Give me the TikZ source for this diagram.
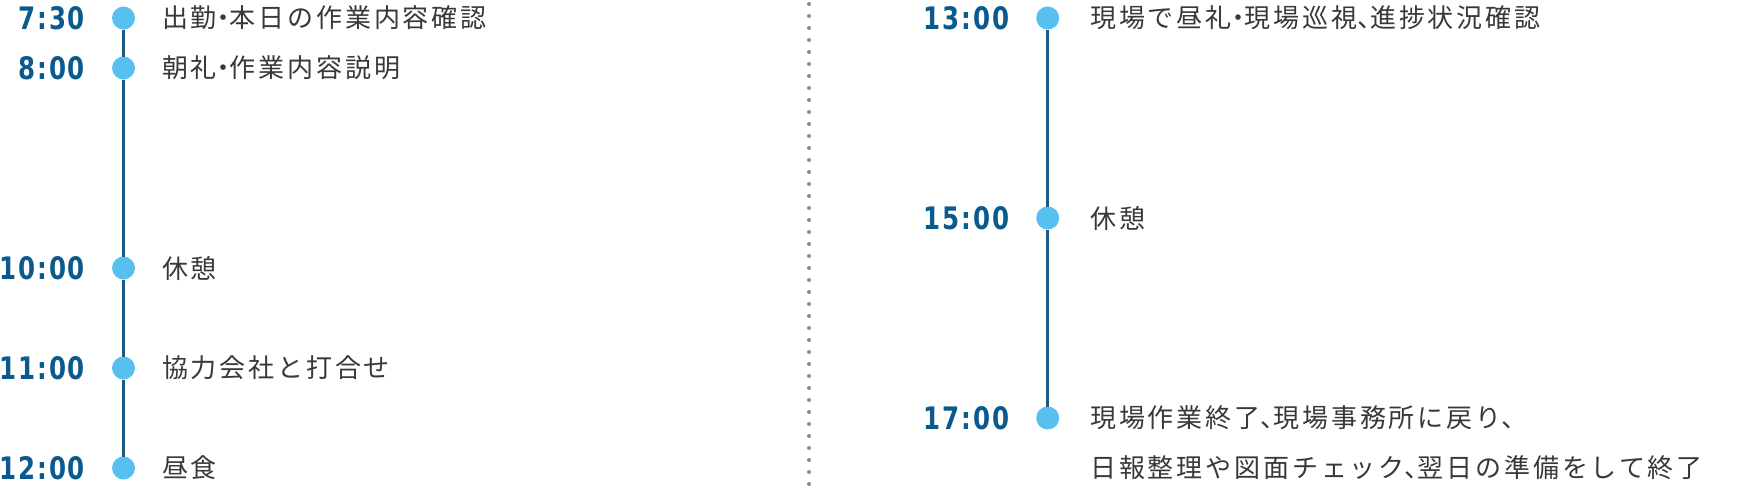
\documentclass[tikz,border=0pt]{standalone}
\usepackage{fontspec}
\usetikzlibrary{positioning}
\newfontfamily\jpfont{Noto Sans CJK JP}[LetterSpace=11]
\newfontfamily\timefont{DejaVu Sans}[FakeStretch=0.79, LetterSpace=6]
\newcommand{\nakaten}{{\addfontfeature{RawFeature=+halt}・}}
\newcommand{\touten}{{\addfontfeature{RawFeature=+halt}、}}
\definecolor{tltime}{HTML}{0B5A8E}
\definecolor{tldot}{HTML}{58C0EE}
\definecolor{tlline}{HTML}{1B5C87}
\definecolor{tltext}{HTML}{383838}
\definecolor{tlsep}{HTML}{8C8C8C}

\begin{document}
\begin{tikzpicture}[
  x=1pt, y=-1pt,
  every node/.style={inner sep=0pt, outer sep=0pt},
  dot/.style={circle, fill=tldot, minimum size=23pt},
  timelabel/.style={text=tltime, font=\timefont\bfseries\fontsize{31}{31}\selectfont},
  tasklabel/.style={text=tltext, font=\jpfont\fontsize{26}{49}\selectfont},
  spine/.style={draw=tlline, line width=2.5pt},
]
\useasboundingbox (0,0) rectangle (1752,488);

% morning
\node[dot] (d730) at (123.5, 18) {};
\node[dot] (d800) at (123.5, 68) {};
\node[dot] (d1000) at (123.5, 268) {};
\node[dot] (d1100) at (123.5, 368) {};
\node[dot] (d1200) at (123.5, 468) {};

\node[timelabel, left=27pt of d730] (t730) {7:30};
\node[timelabel, left=27pt of d800] (t800) {8:00};
\node[timelabel, left=27pt of d1000] (t1000) {10:00};
\node[timelabel, left=27pt of d1100] (t1100) {11:00};
\node[timelabel, left=27pt of d1200] (t1200) {12:00};

\node[tasklabel, right=27pt of d730] (w730) {出勤\nakaten 本日の作業内容確認};
\node[tasklabel, right=27pt of d800] (w800) {朝礼\nakaten 作業内容説明};
\node[tasklabel, right=27pt of d1000] (w1000) {休憩};
\node[tasklabel, right=27pt of d1100] (w1100) {協力会社と打合せ};
\node[tasklabel, right=27pt of d1200] (w1200) {昼食};

\draw[spine] (d730) -- (d800);
\draw[spine] (d800) -- (d1000);
\draw[spine] (d1000) -- (d1100);
\draw[spine] (d1100) -- (d1200);

% separator
\coordinate (septop) at (809, 4);
\coordinate (sepbot) at (809, 484);
\draw[tlsep, line width=4pt, line cap=round, dash pattern=on 0pt off 12pt] (septop) -- (sepbot);

% afternoon
\node[dot] (d1300) at (1047.7, 18) {};
\node[dot] (d1500) at (1047.7, 218) {};
\node[dot] (d1700) at (1047.7, 418) {};

\node[timelabel, left=27pt of d1300] (t1300) {13:00};
\node[timelabel, left=27pt of d1500] (t1500) {15:00};
\node[timelabel, left=27pt of d1700] (t1700) {17:00};

\node[tasklabel, right=31pt of d1300] (w1300) {現場で昼礼\nakaten 現場巡視\touten 進捗状況確認};
\node[tasklabel, right=31pt of d1500] (w1500) {休憩};
\node[tasklabel, right=31pt of d1700] (w1700) {現場作業終了\touten 現場事務所に戻り\touten};
\node[tasklabel, anchor=west] (w1700b) at ([yshift=-50pt]w1700.west) {日報整理や図面チェック\touten 翌日の準備をして終了};

\draw[spine] (d1300) -- (d1500);
\draw[spine] (d1500) -- (d1700);

\end{tikzpicture}
\end{document}
